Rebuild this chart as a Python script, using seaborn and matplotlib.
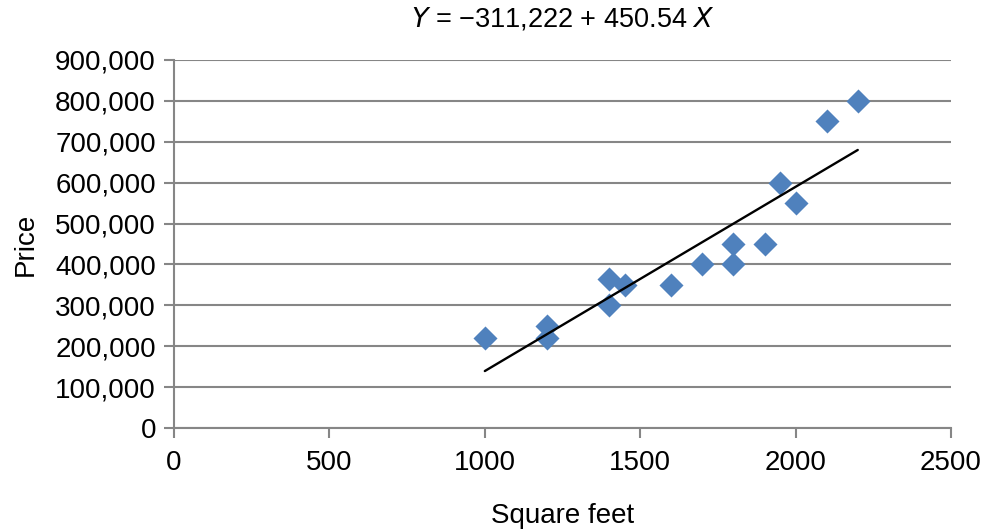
import matplotlib
matplotlib.use("Agg")
import matplotlib.pyplot as plt
import matplotlib.ticker as mticker
import numpy as np
import pandas as pd
import seaborn as sns

square_feet = [1000, 1200, 1200, 1400, 1400, 1450, 1600, 1700, 1800, 1800, 1900, 1950, 2000, 2100, 2200]
price = [220000, 250000, 220000, 365000, 300000, 350000, 350000, 400000, 450000, 400000, 450000, 600000, 550000, 750000, 800000]
intercept = -311222
slope = 450.54
x_ticks = [0, 500, 1000, 1500, 2000, 2500]
y_ticks = [0, 100000, 200000, 300000, 400000, 500000, 600000, 700000, 800000, 900000]

sns.set_theme(style="white")
plt.rcParams['font.family'] = ['Liberation Sans', 'DejaVu Sans']
plt.rcParams['text.color'] = 'black'
plt.rcParams['axes.labelcolor'] = 'black'

df = pd.DataFrame({"Square feet": square_feet, "Price": price})

fig = plt.figure(figsize=(9.9, 5.29), dpi=100)
ax = fig.add_axes([0.1758, 0.1909, 0.9606 - 0.1758, 0.8866 - 0.1909])

grid_c = "#868686"
sns.scatterplot(data=df, x="Square feet", y="Price", marker="D", s=150,
                color="#4F81BD", linewidth=0, ax=ax, zorder=3)

xl = np.array([min(square_feet), max(square_feet)])
sns.lineplot(x=xl, y=intercept + slope * xl, color="black", linewidth=1.7, ax=ax, zorder=4)

ax.set_xlim(0, 2500)
ax.set_ylim(0, 900000)
ax.set_xticks(x_ticks)
ax.set_yticks(y_ticks)
ax.yaxis.set_major_formatter(mticker.FuncFormatter(lambda v, p: f"{int(v):,}"))
ax.grid(axis="y", color=grid_c, linewidth=1.5)
ax.set_axisbelow(True)

for s in ["top", "right"]:
    ax.spines[s].set_visible(False)
for s in ["left", "bottom"]:
    ax.spines[s].set_color(grid_c)
    ax.spines[s].set_linewidth(1.5)

ax.tick_params(axis="both", which="major", labelsize=20, labelcolor="black",
               length=7, width=1.5, direction="out", color=grid_c)
ax.tick_params(axis="x", pad=9, bottom=True)
ax.tick_params(axis="y", pad=6, left=True)

ax.set_xlabel("Square feet", fontsize=20, labelpad=19)
ax.set_ylabel("Price", fontsize=20, labelpad=12)
ax.set_title("$\\it{Y}$ = \u2212311,222 + 450.54 $\\it{X}$", fontsize=19.5, pad=24)

fig.savefig("out.png", dpi=100)
